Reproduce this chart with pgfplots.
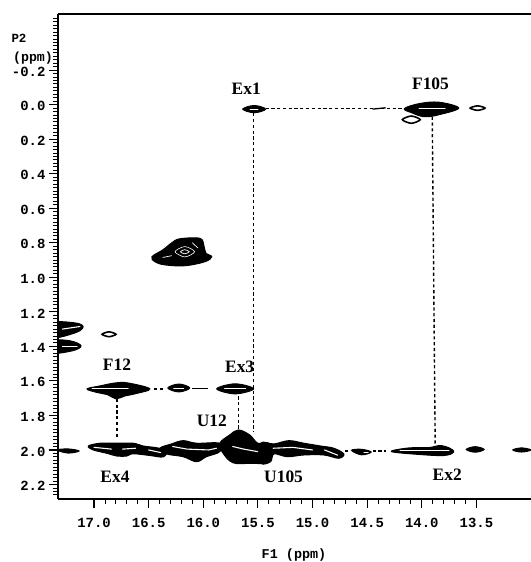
\documentclass[border=0pt]{standalone}
\usepackage{pgfplots}
\pgfplotsset{compat=1.18}
\usepackage{fontspec}
\setmainfont{Liberation Serif}
\newfontfamily\tickf{Liberation Mono}[BoldFont={Liberation Mono Bold}]
\pgfplotsset{
 blob/.style={fill=black,draw=black,line width=1pt,smooth cycle,tension=.6,no marks},
 ring/.style={fill=white,draw=black,line width=1.6pt,smooth cycle,no marks},
 streak/.style={white,line width=1.1pt,no marks,line cap=round},
 link/.style={black,line width=1.4pt,dash pattern=on 3.2pt off 2.6pt,no marks},
}
\begin{document}
\begin{tikzpicture}[x=1bp,y=1bp]
\path[use as bounding box] (0,0) rectangle (531,562);
\begin{axis}[
 at={(58bp,63bp)},anchor=south west,
 width=473bp,height=485bp,scale only axis,
 x dir=reverse,y dir=reverse,
 xmin=13.0,xmax=17.33,ymin=-0.525,ymax=2.284,
 axis x line*=box,axis y line*=left,
 axis line style={line width=1.5pt,-},
 xtick={13.5,14,14.5,15,15.5,16,16.5,17},
 ytick={-0.2,0,0.2,0.4,0.6,0.8,1.0,1.2,1.4,1.6,1.8,2.0,2.2},
 minor x tick num=4,
 minor ytick={-0.5,-0.48,-0.46,-0.44,-0.42,-0.40,-0.38,-0.36,-0.34,-0.32,-0.30,-0.28,-0.26,-0.24,-0.22,-0.18,-0.16,-0.14,-0.12,-0.10,-0.08,-0.06,-0.04,-0.02,0.02,0.04,0.06,0.08,0.10,0.12,0.14,0.16,0.18,0.22,0.24,0.26,0.28,0.30,0.32,0.34,0.36,0.38,0.42,0.44,0.46,0.48,0.50,0.52,0.54,0.56,0.58,0.62,0.64,0.66,0.68,0.70,0.72,0.74,0.76,0.78,0.82,0.84,0.86,0.88,0.90,0.92,0.94,0.96,0.98,1.02,1.04,1.06,1.08,1.10,1.12,1.14,1.16,1.18,1.22,1.24,1.26,1.28,1.30,1.32,1.34,1.36,1.38,1.42,1.44,1.46,1.48,1.50,1.52,1.54,1.56,1.58,1.62,1.64,1.66,1.68,1.70,1.72,1.74,1.76,1.78,1.82,1.84,1.86,1.88,1.90,1.92,1.94,1.96,1.98,2.02,2.04,2.06,2.08,2.10,2.12,2.14,2.16,2.18,2.22,2.24,2.26},
 tick align=outside,
 xtick pos=bottom,
 major tick length=9bp,minor tick length=5bp,
 tick style={black,line width=1.1pt},
 minor tick style={black,line width=.9pt},
 /pgf/number format/assume math mode=true,
 /pgf/number format/fixed,/pgf/number format/fixed zerofill,/pgf/number format/precision=1,
 tick label style={font=\tickf\bfseries\fontsize{14}{15}\selectfont},
 xticklabel style={yshift=-7bp},
 yticklabel style={xshift=0bp,yshift=-1.5bp},
 clip=true,
]
% dashed correlation lines
\addplot[link] coordinates {(15.43,0.023) (14.16,0.023)};
\addplot[black,line width=1.3pt,no marks] coordinates {(14.45,0.026) (14.33,0.018)};
\addplot[link] coordinates {(15.543,0.05) (15.543,1.896)};
\addplot[link] coordinates {(13.904,0.07) (13.877,1.977)};
\addplot[link] coordinates {(16.790,1.704) (16.790,1.930)};
\addplot[link] coordinates {(15.676,1.69) (15.676,1.884)};
\addplot[link] coordinates {(16.45,1.646) (16.35,1.646)};
\addplot[black,line width=1.3pt,no marks] coordinates {(16.105,1.646) (15.96,1.646)};
\addplot[link] coordinates {(14.70,2.005) (14.65,2.005)};
\addplot[link] coordinates {(14.45,2.005) (14.33,2.005)};
% Ex1
\addplot[blob] coordinates {(15.639,0.026) (15.534,0.005) (15.429,0.026) (15.534,0.047)};
\addplot[streak] coordinates {(15.57,0.026) (15.50,0.026)};
% F105
\addplot[ring] coordinates {(14.178,0.087) (14.096,0.066) (14.014,0.087) (14.096,0.108)};
\addplot[blob] coordinates {(14.160,0.023) (14.023,-0.006) (13.840,-0.014) (13.662,0.020) (13.840,0.058) (13.977,0.070) (14.096,0.046)};
\addplot[streak] coordinates {(14.023,0.023) (13.786,0.023)};
\addplot[ring] coordinates {(13.557,0.020) (13.489,0.007) (13.421,0.020) (13.489,0.033)};
% methyl blob
\addplot[blob] coordinates {(16.470,0.881) (16.370,0.841) (16.288,0.800) (16.215,0.777) (16.032,0.774) (15.995,0.814) (15.977,0.859) (15.922,0.881) (15.986,0.910) (16.169,0.933) (16.352,0.928) (16.443,0.910)};
\addplot[white,line width=.6pt,smooth cycle,no marks] coordinates {(16.259,0.852) (16.169,0.822) (16.079,0.852) (16.169,0.882)};
\addplot[white,line width=.7pt,smooth cycle,no marks] coordinates {(16.209,0.852) (16.169,0.840) (16.129,0.852) (16.169,0.864)};
\addplot[streak,line width=.7pt] coordinates {(16.37,0.885) (16.29,0.875)};
\addplot[streak,line width=.7pt] coordinates {(16.10,0.80) (16.05,0.83)};
% left edge
\addplot[blob] coordinates {(17.40,1.264) (17.174,1.264) (17.100,1.287) (17.174,1.322) (17.40,1.351)};
\addplot[streak] coordinates {(17.29,1.30) (17.13,1.285)};
\addplot[blob] coordinates {(17.40,1.368) (17.219,1.368) (17.119,1.397) (17.201,1.426) (17.40,1.438)};
\addplot[streak] coordinates {(17.29,1.403) (17.155,1.403)};
\addplot[ring] coordinates {(16.927,1.330) (16.863,1.316) (16.799,1.330) (16.863,1.344)};
\addplot[blob] coordinates {(17.337,2.000) (17.237,1.994) (17.137,2.006) (17.237,2.018)};
% F12 row
\addplot[blob] coordinates {(17.064,1.646) (16.945,1.629) (16.808,1.612) (16.689,1.612) (16.489,1.646) (16.626,1.675) (16.717,1.687) (16.799,1.704) (16.872,1.681) (16.991,1.664)};
\addplot[streak] coordinates {(17.018,1.643) (16.689,1.643)};
\addplot[blob] coordinates {(16.324,1.641) (16.224,1.618) (16.124,1.641) (16.224,1.664)};
\addplot[streak] coordinates {(16.27,1.643) (16.18,1.643)};
\addplot[blob] coordinates {(15.877,1.646) (15.708,1.617) (15.539,1.646) (15.708,1.675)};
\addplot[streak] coordinates {(15.804,1.646) (15.612,1.646)};
% 2.0 ppm band
\addplot[blob] coordinates {(17.052,1.977) (16.945,1.961) (16.793,1.961) (16.641,1.961) (16.550,1.977) (16.428,1.987) (16.336,2.004) (16.367,2.040) (16.489,2.032) (16.641,2.022) (16.701,2.035) (16.793,2.035) (16.884,2.019) (17.006,2.000)};
\addplot[streak] coordinates {(17.0,1.985) (16.84,1.995)};
\addplot[streak] coordinates {(16.74,1.995) (16.62,1.99)};
\addplot[streak] coordinates {(16.50,2.0) (16.39,2.015)};
\addplot[blob] coordinates {(16.397,1.990) (16.291,1.965) (16.184,1.946) (16.062,1.961) (15.849,1.961) (15.849,2.010) (15.971,2.039) (16.062,2.068) (16.184,2.039) (16.336,2.023)};
\addplot[streak] coordinates {(16.28,1.98) (16.15,1.995) (15.95,2.0) (15.88,1.99)};
\addplot[blob] coordinates {(15.849,1.961) (15.758,1.913) (15.679,1.884) (15.575,1.913) (15.500,1.961) (15.393,1.965) (15.393,2.068) (15.575,2.077) (15.728,2.074) (15.819,2.019)};
\addplot[streak] coordinates {(15.73,1.98) (15.63,1.995) (15.50,2.01)};
\addplot[blob] coordinates {(15.475,1.961) (15.353,1.965) (15.216,1.946) (15.079,1.961) (14.927,1.977) (14.805,1.990) (14.714,2.023) (14.760,2.048) (14.897,2.029) (15.079,2.029) (15.231,2.039) (15.353,2.023) (15.384,2.068) (15.475,2.074)};
\addplot[streak] coordinates {(15.36,1.99) (15.18,1.985) (15.0,2.0)};
\addplot[streak] coordinates {(14.89,2.0) (14.77,2.03)};
\addplot[blob] coordinates {(14.643,2.002) (14.553,1.996) (14.463,2.012) (14.553,2.028)};
\addplot[streak,line width=.7pt] coordinates {(14.53,2.012) (14.49,2.012)};
\addplot[blob] coordinates {(14.279,2.009) (14.114,1.988) (13.932,1.986) (13.840,1.974) (13.749,1.988) (13.708,2.012) (13.795,2.032) (14.023,2.026)};
\addplot[streak,line width=.8pt] coordinates {(14.2,2.005) (13.75,2.005)};
\addplot[blob] coordinates {(13.593,1.997) (13.511,1.981) (13.429,1.997) (13.511,2.013)};
\addplot[blob] coordinates {(13.167,2.000) (13.087,1.988) (13.0,2.000) (13.087,2.012)};
% labels
\node[font=\fontsize{17.5}{18}\selectfont\bfseries] at (axis cs:15.607,-0.094) {Ex1};
\node[font=\fontsize{17.5}{18}\selectfont\bfseries] at (axis cs:13.920,-0.122) {F105};
\node[font=\fontsize{17.5}{18}\selectfont\bfseries] at (axis cs:16.790,1.507) {F12};
\node[font=\fontsize{17.5}{18}\selectfont\bfseries] at (axis cs:15.667,1.519) {Ex3};
\node[font=\fontsize{17.5}{18}\selectfont\bfseries] at (axis cs:15.922,1.832) {U12};
\node[font=\fontsize{17.5}{18}\selectfont\bfseries] at (axis cs:16.808,2.157) {Ex4};
\node[font=\fontsize{17.5}{18}\selectfont\bfseries] at (axis cs:15.265,2.157) {U105};
\node[font=\fontsize{17.5}{18}\selectfont\bfseries] at (axis cs:13.767,2.145) {Ex2};
\end{axis}
\node[font=\tickf\bfseries\fontsize{13.5}{14}\selectfont] at (294,7) {F1 (ppm)};
\node[font=\tickf\bfseries\fontsize{12.5}{13}\selectfont] at (19,524) {P2};
\node[font=\tickf\bfseries\fontsize{13.3}{14}\selectfont] at (33,504) {(ppm)};
\end{tikzpicture}
\end{document}
